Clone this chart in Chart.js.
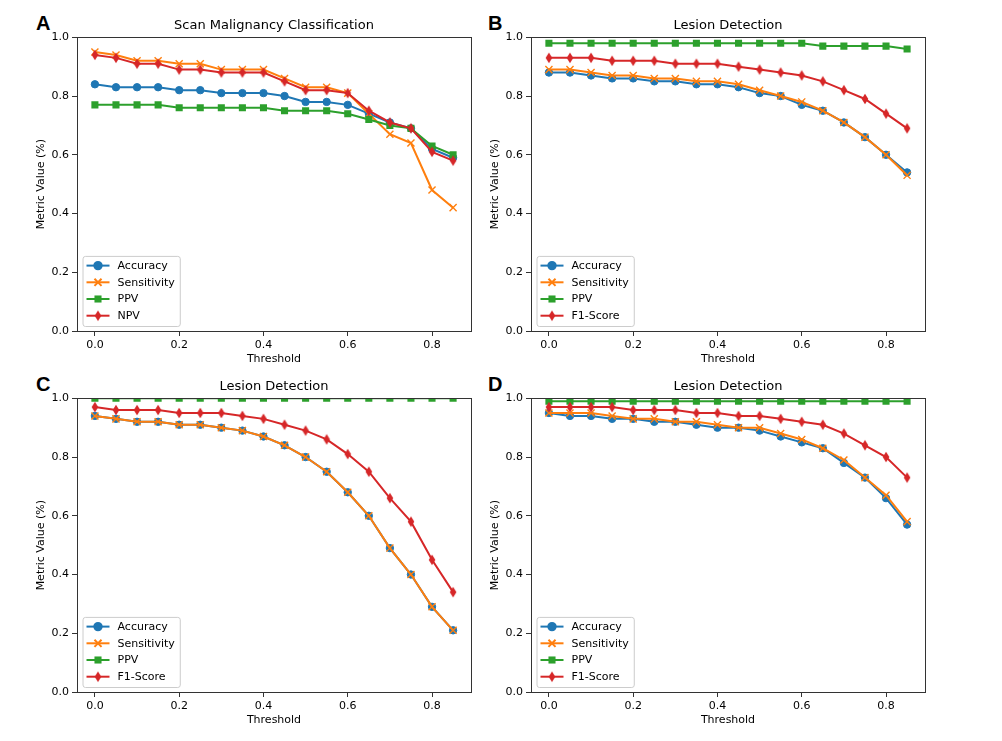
<!DOCTYPE html>
<html>
<head>
<meta charset="utf-8">
<script src="https://cdn.jsdelivr.net/npm/chart.js@4.4.1/dist/chart.umd.min.js"></script>
<style>
  body { margin: 0; background: #fff; }
  #page { position: relative; width: 1002px; height: 741px; overflow: hidden; background: #fff; }
  .panel { position: absolute; }
  .tag { position: absolute; font: bold 20px "Liberation Sans", Arial, sans-serif; color: #000; line-height: 1; }
</style>
</head>
<body>
<div id="page">
  <div class="tag" style="left:36px;top:13px">A</div>
  <div class="tag" style="left:488px;top:13px">B</div>
  <div class="tag" style="left:36px;top:374px">C</div>
  <div class="tag" style="left:488px;top:374px">D</div>
  <canvas class="panel" id="chartA" width="501" height="370" style="left:0;top:0"></canvas>
  <canvas class="panel" id="chartB" width="501" height="370" style="left:454px;top:0"></canvas>
  <canvas class="panel" id="chartC" width="501" height="370" style="left:0;top:361px"></canvas>
  <canvas class="panel" id="chartD" width="501" height="370" style="left:454px;top:361px"></canvas>
</div>
<script>
// thresholds on the x axis
const thresholds = [0, 0.05, 0.1, 0.15, 0.2, 0.25, 0.3, 0.35, 0.4, 0.45, 0.5, 0.55, 0.6, 0.65, 0.7, 0.75, 0.8, 0.85];
const xTicks = [0, 0.2, 0.4, 0.6, 0.8];
const yTicks = [0, 0.2, 0.4, 0.6, 0.8, 1.0];

// A - scan malignancy classification
const accA  = [0.84, 0.83, 0.83, 0.83, 0.82, 0.82, 0.81, 0.81, 0.81, 0.80, 0.78, 0.78, 0.77, 0.74, 0.71, 0.69, 0.62, 0.59];
const sensA = [0.95, 0.94, 0.92, 0.92, 0.91, 0.91, 0.89, 0.89, 0.89, 0.86, 0.83, 0.83, 0.81, 0.74, 0.67, 0.64, 0.48, 0.42];
const ppvA  = [0.77, 0.77, 0.77, 0.77, 0.76, 0.76, 0.76, 0.76, 0.76, 0.75, 0.75, 0.75, 0.74, 0.72, 0.70, 0.69, 0.63, 0.60];
const npvA  = [0.94, 0.93, 0.91, 0.91, 0.89, 0.89, 0.88, 0.88, 0.88, 0.85, 0.82, 0.82, 0.81, 0.75, 0.71, 0.69, 0.61, 0.58];

// B - lesion detection
const accB  = [0.88, 0.88, 0.87, 0.86, 0.86, 0.85, 0.85, 0.84, 0.84, 0.83, 0.81, 0.80, 0.77, 0.75, 0.71, 0.66, 0.60, 0.54];
const sensB = [0.89, 0.89, 0.88, 0.87, 0.87, 0.86, 0.86, 0.85, 0.85, 0.84, 0.82, 0.80, 0.78, 0.75, 0.71, 0.66, 0.60, 0.53];
const ppvB  = [0.98, 0.98, 0.98, 0.98, 0.98, 0.98, 0.98, 0.98, 0.98, 0.98, 0.98, 0.98, 0.98, 0.97, 0.97, 0.97, 0.97, 0.96];
const f1B   = [0.93, 0.93, 0.93, 0.92, 0.92, 0.92, 0.91, 0.91, 0.91, 0.90, 0.89, 0.88, 0.87, 0.85, 0.82, 0.79, 0.74, 0.69];

// C - lesion detection
const accC  = [0.94, 0.93, 0.92, 0.92, 0.91, 0.91, 0.90, 0.89, 0.87, 0.84, 0.80, 0.75, 0.68, 0.60, 0.49, 0.40, 0.29, 0.21];
const sensC = [0.94, 0.93, 0.92, 0.92, 0.91, 0.91, 0.90, 0.89, 0.87, 0.84, 0.80, 0.75, 0.68, 0.60, 0.49, 0.40, 0.29, 0.21];
const ppvC  = [1.00, 1.00, 1.00, 1.00, 1.00, 1.00, 1.00, 1.00, 1.00, 1.00, 1.00, 1.00, 1.00, 1.00, 1.00, 1.00, 1.00, 1.00];
const f1C   = [0.97, 0.96, 0.96, 0.96, 0.95, 0.95, 0.95, 0.94, 0.93, 0.91, 0.89, 0.86, 0.81, 0.75, 0.66, 0.58, 0.45, 0.34];

// D - lesion detection
const accD  = [0.95, 0.94, 0.94, 0.93, 0.93, 0.92, 0.92, 0.91, 0.90, 0.90, 0.89, 0.87, 0.85, 0.83, 0.78, 0.73, 0.66, 0.57];
const sensD = [0.95, 0.95, 0.95, 0.94, 0.93, 0.93, 0.92, 0.92, 0.91, 0.90, 0.90, 0.88, 0.86, 0.83, 0.79, 0.73, 0.67, 0.58];
const ppvD  = [0.99, 0.99, 0.99, 0.99, 0.99, 0.99, 0.99, 0.99, 0.99, 0.99, 0.99, 0.99, 0.99, 0.99, 0.99, 0.99, 0.99, 0.99];
const f1D   = [0.97, 0.97, 0.97, 0.97, 0.96, 0.96, 0.96, 0.95, 0.95, 0.94, 0.94, 0.93, 0.92, 0.91, 0.88, 0.84, 0.80, 0.73];

const colors = ['#1f77b4', '#ff7f0e', '#2ca02c', '#d62728'];

Chart.defaults.font.family = '"DejaVu Sans", sans-serif';
Chart.defaults.font.size = 11;
Chart.defaults.color = '#000';

// matplotlib 'd' marker
function thinDiamond(color) {
  const c = document.createElement('canvas');
  c.width = 8; c.height = 12;
  const g = c.getContext('2d');
  g.fillStyle = color;
  g.beginPath();
  g.moveTo(4, 0.8); g.lineTo(7.3, 6); g.lineTo(4, 11.2); g.lineTo(0.7, 6);
  g.closePath();
  g.fill();
  return c;
}

// spines all round the axes
const frameBox = {
  id: 'frameBox',
  afterDatasetsDraw(chart) {
    const { ctx, chartArea: a } = chart;
    ctx.save();
    ctx.strokeStyle = '#333';
    ctx.lineWidth = 1;
    ctx.strokeRect(Math.round(a.left) + 0.5, Math.round(a.top) + 0.5,
                   Math.round(a.right - a.left), Math.round(a.bottom - a.top));
    ctx.restore();
  }
};

// legend box in the lower left of the axes
const boxLegend = {
  id: 'boxLegend',
  afterDraw(chart) {
    const { ctx, chartArea: a } = chart;
    const sets = chart.data.datasets;
    const rowH = 16.7;
    ctx.save();
    ctx.font = '11px "DejaVu Sans"';
    const textW = Math.max(...sets.map(d => ctx.measureText(d.label).width));
    const x0 = a.left + 5.5;
    const w = 35 + textW + 5;
    const h = 9.7 + rowH * (sets.length - 1) + 10.3;
    const y0 = a.bottom - 5 - h;
    ctx.beginPath();
    ctx.roundRect(x0 + 0.5, y0 + 0.5, w, h, 2.5);
    ctx.fillStyle = 'rgba(255,255,255,0.8)';
    ctx.fill();
    ctx.strokeStyle = '#cccccc';
    ctx.lineWidth = 1;
    ctx.stroke();
    sets.forEach((d, i) => {
      const y = y0 + 9.7 + i * rowH;
      ctx.strokeStyle = d.borderColor;
      ctx.lineWidth = 2;
      ctx.beginPath();
      ctx.moveTo(x0 + 4, y);
      ctx.lineTo(x0 + 27, y);
      ctx.stroke();
      ctx.fillStyle = d.pointBackgroundColor;
      ctx.strokeStyle = d.pointBorderColor;
      Chart.helpers.drawPoint(ctx, {
        pointStyle: d.pointStyle, rotation: 0,
        radius: d.pointRadius, borderWidth: d.pointBorderWidth
      }, x0 + 15.5, y);
      ctx.fillStyle = '#000';
      ctx.textBaseline = 'middle';
      ctx.textAlign = 'left';
      ctx.fillText(d.label, x0 + 35, y + 0.5);
    });
    ctx.restore();
  }
};

function series(label, vals, i, style, radius, bw) {
  return {
    label,
    data: thresholds.map((t, k) => ({ x: t, y: vals[k] })),
    borderColor: colors[i],
    backgroundColor: colors[i],
    pointBackgroundColor: colors[i],
    pointBorderColor: colors[i],
    borderWidth: 2,
    pointStyle: style,
    pointRadius: radius,
    pointHoverRadius: radius,
    pointBorderWidth: bw,
    tension: 0,
    clip: 0,
    order: 4 - i
  };
}

function makeChart(id, title, lastName, acc, sens, ppv, last) {
  new Chart(document.getElementById(id), {
    type: 'line',
    data: {
      datasets: [
        series('Accuracy', acc, 0, 'circle', 3.7, 1),
        series('Sensitivity', sens, 1, 'crossRot', 5, 1.4),
        series('PPV', ppv, 2, 'rect', 5, 0),
        series(lastName, last, 3, thinDiamond(colors[3]), 5, 0)
      ]
    },
    options: {
      responsive: false,
      animation: false,
      events: [],
      layout: { padding: { left: 31, right: 30, top: 0, bottom: 0 } },
      plugins: {
        legend: { display: false },
        tooltip: { enabled: false },
        title: {
          display: true,
          fullSize: false,
          text: title,
          font: { size: 13, weight: 'normal' },
          color: '#000',
          padding: { top: 18, bottom: 3.7 }
        }
      },
      scales: {
        x: {
          type: 'linear',
          min: -0.0425,
          max: 0.8925,
          afterBuildTicks: s => { s.ticks = xTicks.map(v => ({ value: v })); },
          afterFit: s => { s.height = 39; },
          ticks: { callback: v => v.toFixed(1), padding: 3, maxRotation: 0, autoSkip: false },
          grid: { drawOnChartArea: false, tickLength: 5, color: '#333', tickWidth: 1 },
          border: { display: false },
          title: { display: true, text: 'Threshold', padding: { top: 2, bottom: 4 } }
        },
        y: {
          min: 0,
          max: 1,
          afterBuildTicks: s => { s.ticks = yTicks.map(v => ({ value: v })); },
          afterFit: s => { s.width = 46; },
          ticks: { callback: v => v.toFixed(1), padding: 3 },
          grid: { drawOnChartArea: false, tickLength: 5, color: '#333', tickWidth: 1 },
          border: { display: false },
          title: { display: true, text: 'Metric Value (%)', padding: { top: 4, bottom: 4 } }
        }
      }
    },
    plugins: [frameBox, boxLegend]
  });
}

makeChart('chartA', 'Scan Malignancy Classification', 'NPV', accA, sensA, ppvA, npvA);
makeChart('chartB', 'Lesion Detection', 'F1-Score', accB, sensB, ppvB, f1B);
makeChart('chartC', 'Lesion Detection', 'F1-Score', accC, sensC, ppvC, f1C);
makeChart('chartD', 'Lesion Detection', 'F1-Score', accD, sensD, ppvD, f1D);
</script>
</body>
</html>
